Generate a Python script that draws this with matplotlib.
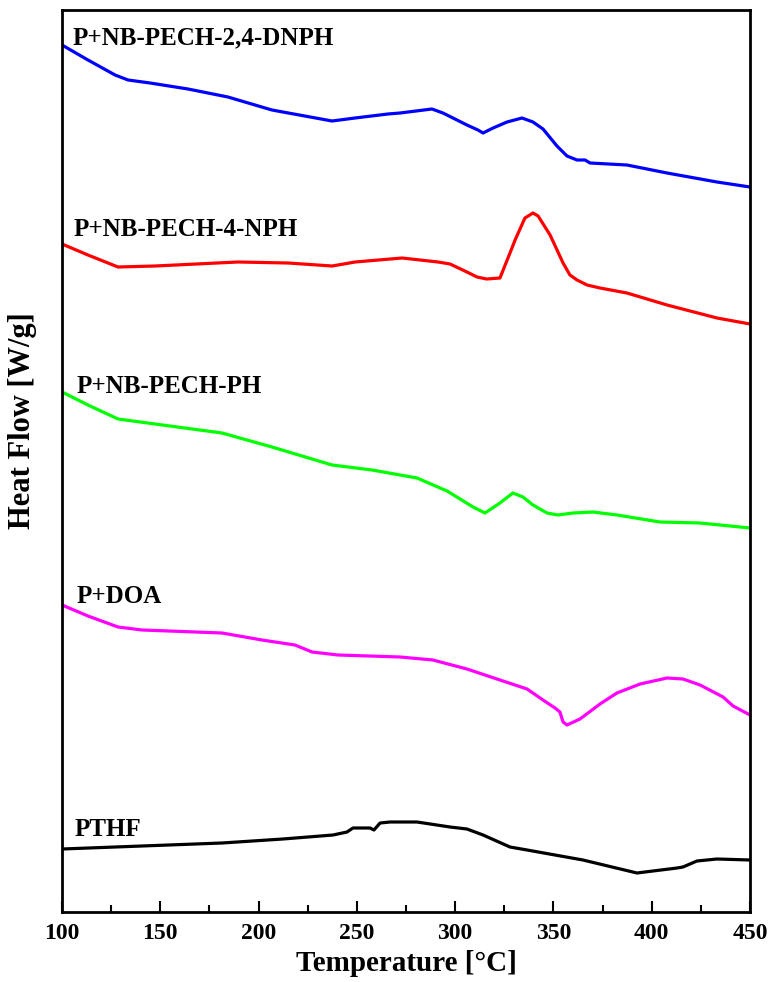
import numpy as np
import matplotlib
matplotlib.use('Agg')
import matplotlib.pyplot as plt
from matplotlib.ticker import MultipleLocator

plt.rcParams['font.family'] = ['Liberation Serif', 'DejaVu Serif']
plt.rcParams['font.weight'] = 'bold'

# DSC curves (Temperature [°C], Heat flow, stacked offsets)
t_dnph = [100, 113.2, 127, 133.6, 144.8, 164.1, 184.4, 206.8, 237.4, 249.1, 265.8, 272,
          288.2, 293.8, 306, 311.6, 314.2, 319.3, 326.4, 334, 339.6, 344.7, 351.8,
          356.9, 362, 366.1, 368.6, 387.4, 407.8, 433.2, 450]
hf_dnph = [8.67, 8.52, 8.37, 8.32, 8.29, 8.23, 8.15, 8.02, 7.91, 7.94, 7.98, 7.99,
           8.03, 7.99, 7.87, 7.82, 7.79, 7.84, 7.90, 7.94, 7.90, 7.83, 7.66,
           7.56, 7.52, 7.52, 7.49, 7.47, 7.39, 7.30, 7.25]

t_nph = [100, 113.2, 128.5, 147.3, 189.5, 215, 237.4, 249.1, 273, 291.3, 297.4, 306,
         311.1, 316, 322.8, 327.9, 330.5, 335.5, 339.6, 342.2, 348.3, 354.9, 358.4,
         362, 367.1, 373.7, 387.4, 407.8, 433.2, 450]
hf_nph = [6.68, 6.57, 6.45, 6.46, 6.50, 6.49, 6.46, 6.50, 6.54, 6.50, 6.48, 6.40,
          6.35, 6.33, 6.34, 6.59, 6.72, 6.94, 6.99, 6.96, 6.77, 6.49, 6.37,
          6.32, 6.27, 6.24, 6.19, 6.07, 5.94, 5.88]

t_ph = [100, 113.2, 128.5, 147.3, 181.4, 206.8, 237.4, 257.7, 280.6, 295.9, 309.1,
        315.2, 322.8, 329.4, 334.5, 339.6, 346.7, 352.3, 360, 370.1, 382.3, 404.2,
        424.6, 450]
hf_ph = [5.20, 5.07, 4.93, 4.88, 4.79, 4.65, 4.47, 4.42, 4.34, 4.21, 4.05,
         3.99, 4.09, 4.19, 4.15, 4.07, 3.99, 3.97, 3.99, 4.00, 3.97, 3.90,
         3.89, 3.84]

t_doa = [100, 113.2, 128.5, 140.7, 181.4, 201.7, 218.5, 227.2, 240.4, 272, 288.7, 306,
         322.8, 336.6, 344.7, 350.8, 353.3, 354.9, 356.9, 363.5, 373.7, 382.3, 394.1,
         407.8, 415.9, 424.6, 436.3, 441.4, 450]
hf_doa = [3.07, 2.96, 2.85, 2.82, 2.79, 2.72, 2.67, 2.60, 2.57, 2.55, 2.52, 2.43,
          2.32, 2.23, 2.12, 2.04, 2.00, 1.90, 1.87, 1.93, 2.08, 2.19, 2.28,
          2.34, 2.33, 2.27, 2.15, 2.06, 1.97]

t_pthf = [100, 181.4, 212.4, 237.9, 245, 248, 256.7, 258.7, 261.8, 266.9, 280.6,
          297.4, 306, 314.2, 327.9, 336.6, 365, 392.5, 412.9, 415.9, 423, 433.2, 450]
hf_pthf = [0.63, 0.69, 0.73, 0.77, 0.80, 0.84, 0.84, 0.82, 0.89, 0.90, 0.90,
           0.85, 0.83, 0.77, 0.65, 0.62, 0.52, 0.39, 0.44, 0.45, 0.51, 0.53, 0.52]

names = ['P+NB-PECH-2,4-DNPH', 'P+NB-PECH-4-NPH', 'P+NB-PECH-PH', 'P+DOA', 'PTHF']
colors = ['#0000ff', '#ff0000', '#00ff00', '#ff00ff', '#000000']
label_x = [105.6, 106.1, 107.6, 107.6, 106.6]
label_y = [8.68, 6.76, 5.19, 3.09, 0.76]

curves = [(t_dnph, hf_dnph), (t_nph, hf_nph), (t_ph, hf_ph), (t_doa, hf_doa), (t_pthf, hf_pthf)]

fig = plt.figure(figsize=(7.71, 9.82), dpi=100)
ax = fig.add_axes([62 / 771, 70 / 982, 688 / 771, 902 / 982])

for (t, hf), c in zip(curves, colors):
    ax.plot(t, hf, color=c, lw=2.3, solid_joinstyle='round', solid_capstyle='round')

for name, x, y in zip(names, label_x, label_y):
    ax.text(x, y, name, fontsize=18, fontweight='bold', va='baseline', ha='left')

ax.set_xlim(100, 450)
ax.set_ylim(0, 9.02)
ax.xaxis.set_major_locator(MultipleLocator(50))
ax.xaxis.set_minor_locator(MultipleLocator(25))
ax.tick_params(axis='x', which='major', direction='in', length=8, width=1.5,
               labelsize=17, pad=8, top=False)
ax.tick_params(axis='x', which='minor', direction='in', length=5, width=1.5, top=False)
ax.set_yticks([])
for lab in ax.get_xticklabels():
    lab.set_fontweight('bold')
for s in ax.spines.values():
    s.set_linewidth(2)

ax.set_xlabel('Temperature [°C]', fontsize=21, fontweight='bold', labelpad=4)
ax.set_ylabel('Heat Flow [W/g]', fontsize=22, fontweight='bold')
ax.yaxis.set_label_coords(-0.037, 0.545)

fig.savefig('out.png', dpi=100)
